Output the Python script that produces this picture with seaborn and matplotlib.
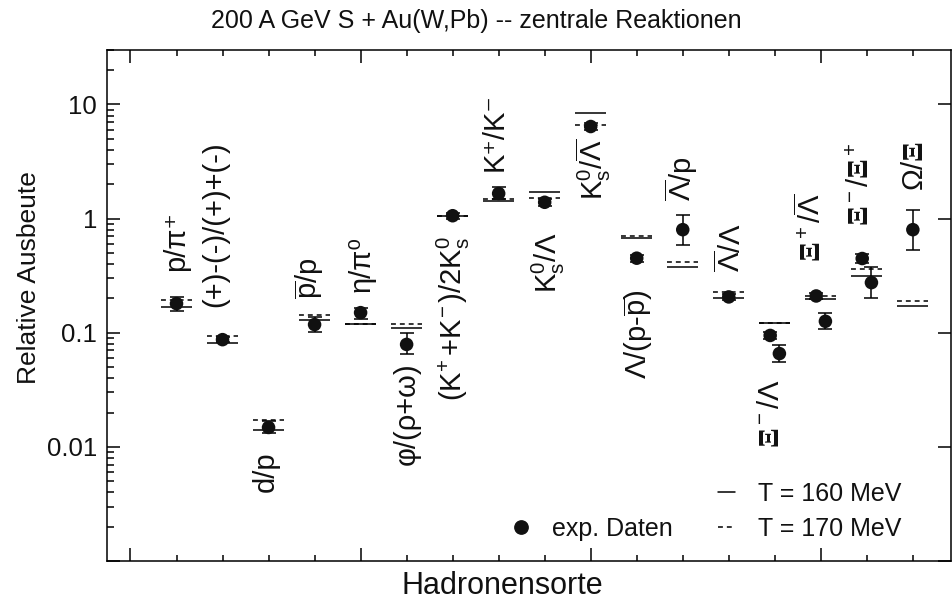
import numpy as np
import pandas as pd
import matplotlib
matplotlib.use("Agg")
import matplotlib.pyplot as plt
import seaborn as sns
from matplotlib.ticker import FixedLocator, FixedFormatter, LogLocator, NullFormatter, MultipleLocator
from matplotlib.lines import Line2D

# ---------------- data ----------------
ratio_labels = [
    "p/π⁺",
    "(+)-(-)/(+)+(-)",
    "d/p",
    r"$\overline{p}$/p",
    "η/π⁰",
    "φ/(ρ+ω)",
    r"($K^{\!+}$+$K^{\!-}$)/2$K^0_s$",
    "K⁺/K⁻",
    r"$K^0_s$/Λ",
    r"$K^0_s$/$\overline{Λ}$",
    r"Λ/(p-$\overline{p}$)",
    r"$\overline{Λ}$/p",
    r"$\overline{Λ}$/Λ",
    r"$\mathbf{Ξ}^-$/Λ",
    r"$\mathbf{Ξ}^+$/$\overline{Λ}$",
    r"$\mathbf{Ξ}^-$/$\mathbf{Ξ}^+$",
    r"$\mathit{Ω}$/$\mathbf{Ξ}$",
]
model_cat = list(range(1, 18))

# statistical-model predictions
t160 = [0.169, 0.0817, 0.0141, 0.129, 0.120, 0.1106, 1.06, 1.43, 1.72, 8.46,
        0.678, 0.380, 0.200, 0.121, 0.199, 0.314, 0.171]
t170 = [0.192, 0.0933, 0.0171, 0.142, 0.120, 0.120, 1.06, 1.50, 1.51, 6.67,
        0.707, 0.417, 0.228, 0.121, 0.210, 0.365, 0.190]

# experimental data
exp_cat = [1, 2, 3, 4, 5, 6, 7, 8, 9, 10, 11, 12, 13, 14, 14, 15, 15, 16, 16, 17]
exp_shift = [0, 0, 0, 0, 0, 0, 0, 0, 0, 0, 0, 0, 0, -0.1, 0.1, -0.1, 0.1, -0.1, 0.1, 0]
exp_val = [0.180, 0.087, 0.0148, 0.118, 0.150, 0.079, 1.06, 1.66, 1.39, 6.41,
           0.450, 0.80, 0.206, 0.0947, 0.0657, 0.210, 0.126, 0.447, 0.275, 0.80]
exp_lo = [0.155, 0.083, 0.0132, 0.101, 0.131, 0.0646, 1.00, 1.49, 1.30, 5.95,
          0.42, 0.59, 0.193, 0.088, 0.0553, 0.196, 0.108, 0.41, 0.20, 0.53]
exp_hi = [0.206, 0.092, 0.0167, 0.138, 0.166, 0.0997, 1.12, 1.88, 1.48, 6.90,
          0.48, 1.07, 0.220, 0.102, 0.0777, 0.225, 0.150, 0.49, 0.38, 1.19]

# label layout: side, edge value (data units), horizontal shift (category units)
label_side = ["a", "a", "b", "a", "a", "b", "b", "a", "b", "b", "b", "a", "a", "b", "a", "a", "a"]
label_edge = [0.346, 0.167, 0.0091, 0.196, 0.226, 0.0548, 0.70, 2.61, 0.76, 5.0,
              0.24, 1.43, 0.339, 0.0389, 0.415, 0.86, 1.75]
label_shift = [-0.02, -0.15, -0.06, -0.11, 0.02, 0.0, 0.02, -0.09, 0.09, 0.05,
               0.03, -0.03, 0.05, -0.08, -0.21, -0.13, 0.05]

# ---------------- style ----------------
sns.set_theme(style="ticks")
plt.rcParams["font.family"] = ["Liberation Sans", "DejaVu Sans"]
plt.rcParams["mathtext.fontset"] = "custom"
plt.rcParams["mathtext.rm"] = "Liberation Sans"
plt.rcParams["mathtext.it"] = "Liberation Serif"
plt.rcParams["mathtext.bf"] = "Liberation Serif:bold"
plt.rcParams["mathtext.sf"] = "Liberation Sans"
plt.rcParams["mathtext.default"] = "regular"
plt.rcParams["axes.edgecolor"] = "black"
plt.rcParams["axes.linewidth"] = 1.1
plt.rcParams["text.color"] = "#111111"

fig = plt.figure(figsize=(9.52, 6.10), dpi=100)
ax = fig.add_axes([0.1129, 0.0803, 0.8861, 0.8377])

df_exp = pd.DataFrame({
    "x": np.array(exp_cat) + np.array(exp_shift),
    "y": exp_val,
    "lo": exp_lo,
    "hi": exp_hi,
})
df_mod = pd.DataFrame({"x": model_cat, "t160": t160, "t170": t170})

half = 0.34
ax.hlines(df_mod["t160"], df_mod["x"] - half, df_mod["x"] + half,
          colors="black", linewidth=1.1, zorder=2)
ax.hlines(df_mod["t170"], df_mod["x"] - half, df_mod["x"] + half,
          colors="black", linewidth=1.1, linestyles=[(0, (3.2, 2.6))], zorder=2)

ax.errorbar(df_exp["x"], df_exp["y"],
            yerr=[df_exp["y"] - df_exp["lo"], df_exp["hi"] - df_exp["y"]],
            fmt="none", ecolor="black", elinewidth=1.1, capsize=4.7, capthick=1.1, zorder=3)
sns.scatterplot(data=df_exp, x="x", y="y", color="#111111", s=95, edgecolor="none",
                ax=ax, zorder=4, legend=False)

ax.set_yscale("log")
ax.set_xlim(-0.5, 17.83)
ax.set_ylim(1e-3, 30)

ax.yaxis.set_major_locator(FixedLocator([1e-3, 1e-2, 1e-1, 1, 10]))
ax.yaxis.set_major_formatter(FixedFormatter(["", "0.01", "0.1", "1", "10"]))
ax.yaxis.set_minor_locator(LogLocator(base=10, subs=np.arange(2, 10)))
ax.yaxis.set_minor_formatter(NullFormatter())
ax.xaxis.set_major_locator(MultipleLocator(5))
ax.xaxis.set_minor_locator(MultipleLocator(1))

ax.tick_params(which="both", direction="in", top=True, right=True, width=1.1,
               color="black", labelbottom=False)
ax.tick_params(which="major", length=9.4)
ax.tick_params(axis="x", which="minor", length=4.2)
ax.tick_params(axis="y", which="minor", length=5.0, right=False)
ax.tick_params(axis="y", which="major", labelsize=18.5, pad=7.5, labelcolor="#111111")

ax.set_xlabel("Hadronensorte", fontsize=22, color="#111111")
ax.set_ylabel("Relative Ausbeute", fontsize=19, color="#111111")
ax.xaxis.set_label_coords(0.468, -0.019)
ax.yaxis.set_label_coords(-0.079, 0.554)

for i, lab in enumerate(ratio_labels):
    va = "bottom" if label_side[i] == "a" else "top"
    ax.text(model_cat[i] + label_shift[i], label_edge[i], lab, rotation=90,
            ha="center", va=va, fontsize=21, color="#111111")

fig.text(0.5, 1 - 21 / 610, "200 A GeV S + Au(W,Pb) -- zentrale Reaktionen",
         ha="center", va="center", fontsize=18, color="#111111")

blank = Line2D([], [], linestyle="none", marker=None)
dot = Line2D([], [], linestyle="none", marker="o", color="#111111", markersize=9.6)
l160 = Line2D([], [], color="black", linewidth=1.1)
l170 = Line2D([], [], color="black", linewidth=1.1, linestyle=(0, (3.2, 2.6)))
ax.legend([blank, dot, l160, l170], ["", "exp. Daten", "T = 160 MeV", "T = 170 MeV"],
          ncol=2, frameon=False, fontsize=18, handlelength=0.7, handletextpad=0.9,
          columnspacing=1.8, labelspacing=0.45, borderpad=0, borderaxespad=0,
          loc="lower right", bbox_to_anchor=(901 / 952, 1 - 541 / 610),
          bbox_transform=fig.transFigure)

fig.savefig("out.png", dpi=100)
